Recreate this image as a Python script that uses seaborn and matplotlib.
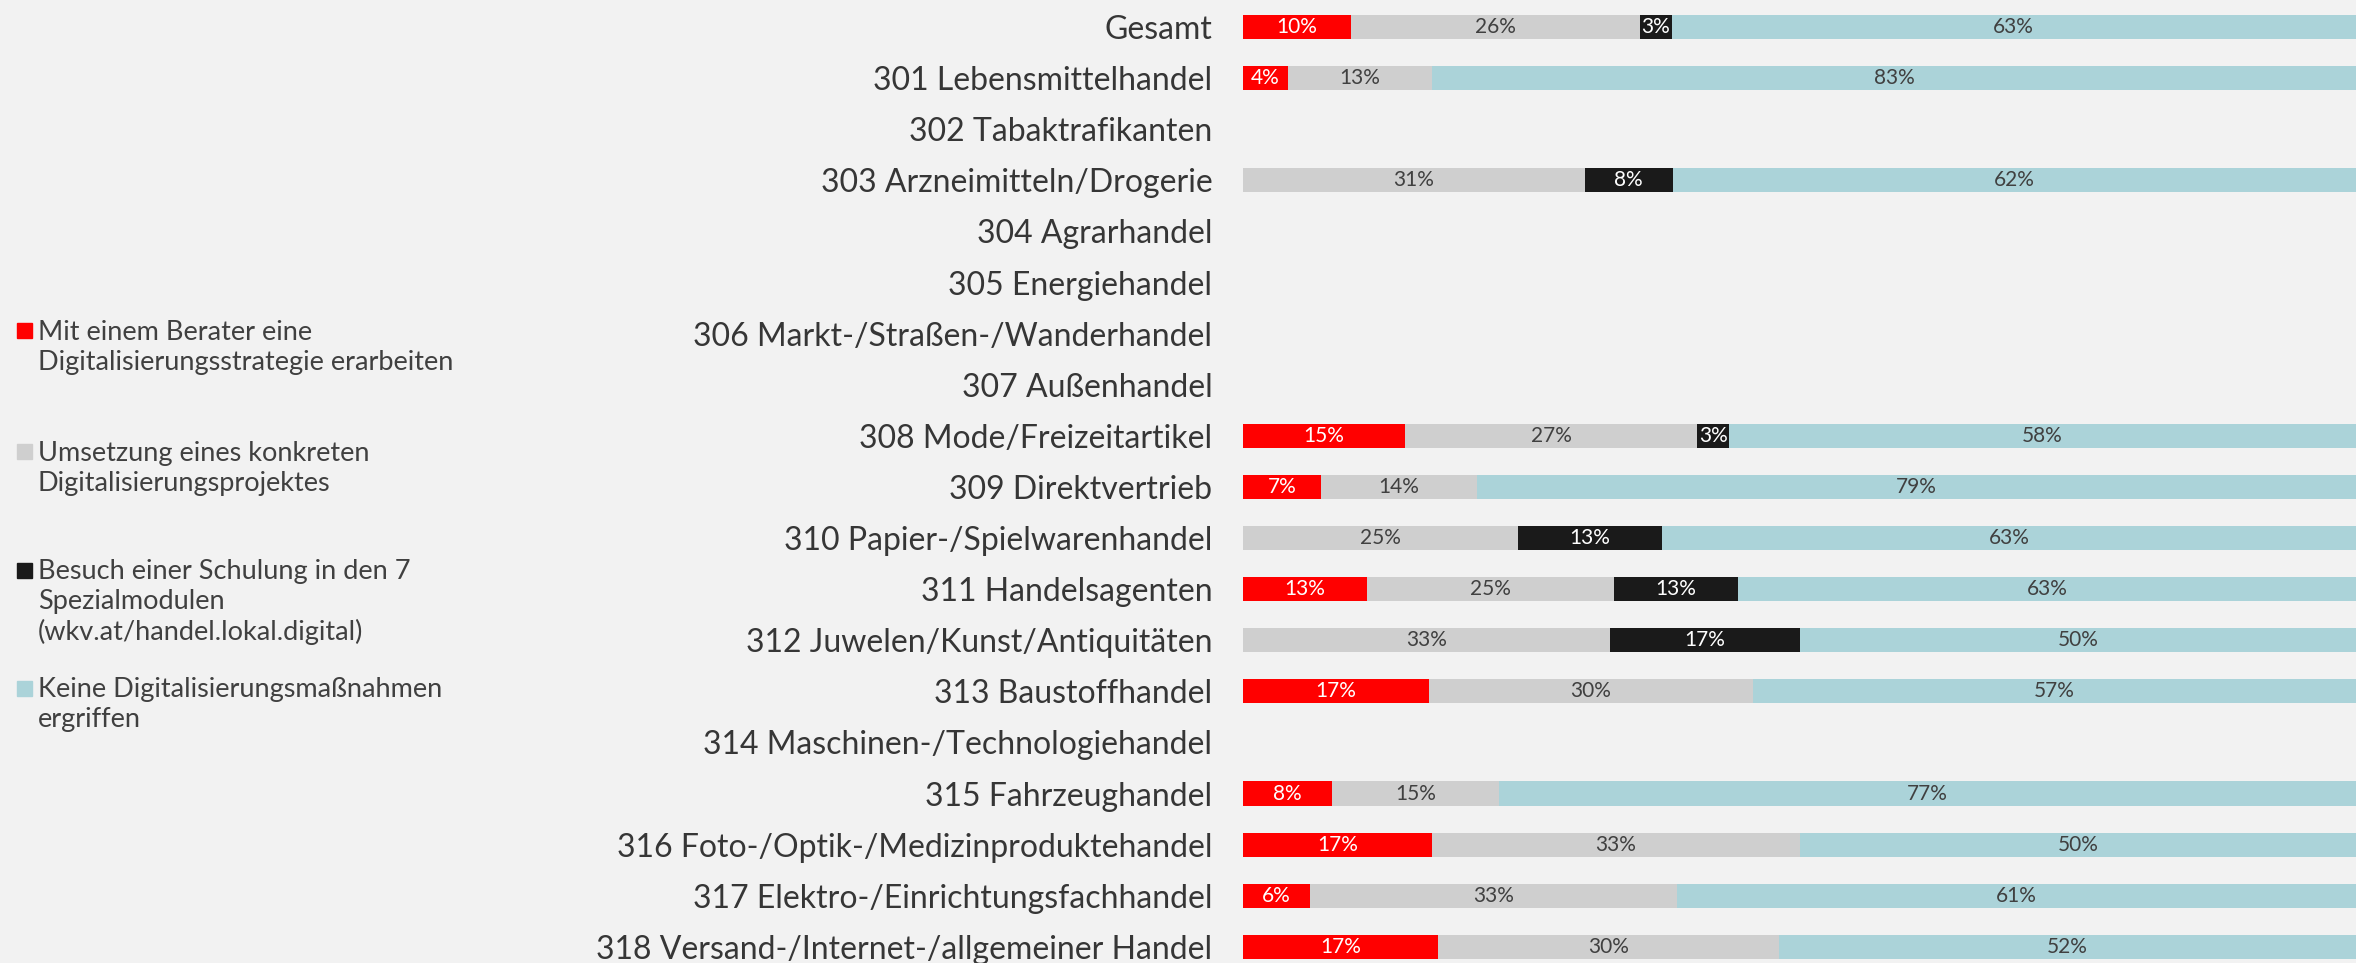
import numpy as np
import pandas as pd
import matplotlib
matplotlib.use("Agg")
import matplotlib.pyplot as plt
import seaborn as sns
from matplotlib.patches import Rectangle

sns.set_theme(style="white")
plt.rcParams['font.family'] = ['Lato', 'DejaVu Sans']

categories = [
    "Gesamt", "301 Lebensmittelhandel", "302 Tabaktrafikanten",
    "303 Arzneimitteln/Drogerie", "304 Agrarhandel", "305 Energiehandel",
    "306 Markt-/Straßen-/Wanderhandel", "307 Außenhandel",
    "308 Mode/Freizeitartikel", "309 Direktvertrieb",
    "310 Papier-/Spielwarenhandel", "311 Handelsagenten",
    "312 Juwelen/Kunst/Antiquitäten", "313 Baustoffhandel",
    "314 Maschinen-/Technologiehandel", "315 Fahrzeughandel",
    "316 Foto-/Optik-/Medizinproduktehandel",
    "317 Elektro-/Einrichtungsfachhandel",
    "318 Versand-/Internet-/allgemeiner Handel",
]
series_names = [
    "Mit einem Berater eine\nDigitalisierungsstrategie erarbeiten",
    "Umsetzung eines konkreten\nDigitalisierungsprojektes",
    "Besuch einer Schulung in den 7\nSpezialmodulen\n(wkv.at/handel.lokal.digital)",
    "Keine Digitalisierungsmaßnahmen\nergriffen",
]
nan = np.nan
# percentages (estimated; labels show values rounded half up)
berater   = [9.9, 4, nan, 0, nan, nan, nan, nan, 15, 7, 0, 12.5, 0, 17.4, nan, 8, 17, 6, 17.4]
umsetzung = [26.4, 13, nan, 31, nan, nan, nan, nan, 27, 14, 25, 25, 33, 30.4, nan, 15, 33, 33, 30.4]
schulung  = [2.9, 0, nan, 8, nan, nan, nan, nan, 3, 0, 13, 12.5, 17, 0, nan, 0, 0, 0, 0]
keine     = [62.6, 83, nan, 62, nan, nan, nan, nan, 58, 79, 63, 62.5, 50, 56.5, nan, 77, 50, 61, 51.5]

colors = ["#ff0000", "#cfcfcf", "#1a1a1a", "#abd3d9"]
text_colors = ["white", "#404040", "white", "#404040"]
bg = "#f2f2f2"

vals = np.array([berater, umsetzung, schulung, keine], dtype=float)  # (4, n)
totals = np.nansum(vals, axis=0)
shares = vals / np.where(totals == 0, 1, totals) * 100
cum = np.cumsum(shares, axis=0)

W, H = 2356, 963
fig = plt.figure(figsize=(W / 100, H / 100), dpi=100, facecolor=bg)
x0 = 1243 / W
ax = fig.add_axes([x0, 0, 1 - x0, 1])
ax.set_facecolor(bg)

# draw from back (full cumulative) to front
for k in range(3, -1, -1):
    df = pd.DataFrame({"cat": categories, "val": cum[k]})
    df = df[~np.isnan(vals[k]) & ~np.isnan(cum[k])]
    sns.barplot(data=df, x="val", y="cat", order=categories, orient="h",
                color=colors[k], saturation=1, width=0.47, errorbar=None,
                linewidth=0, ax=ax)

# segment labels
for i in range(len(categories)):
    if np.all(np.isnan(vals[:, i])):
        continue
    left = 0.0
    for k in range(4):
        v = vals[k, i]
        w = shares[k, i]
        if not np.isnan(v) and v > 0:
            ax.text(left + w / 2, i, f"{int(np.floor(v + 0.5))}%", ha="center",
                    va="center", fontsize=15, color=text_colors[k])
        if not np.isnan(w):
            left += w

ax.set_xlim(0, 100)
ax.set_ylim((H - 27) / 51.1, -27 / 51.1)
ax.set_xlabel("")
ax.set_ylabel("")
ax.set_xticks([])
ax.tick_params(axis="y", length=0, pad=22, labelsize=23, labelcolor="#363636")
for s in ax.spines.values():
    s.set_visible(False)

# legend (left side)
leg_tops = [331, 452, 570, 688]
for k, (name, yc) in enumerate(zip(series_names, leg_tops)):
    sq = 15
    fig.patches.append(Rectangle((17 / W, 1 - (yc + sq / 2) / H), sq / W, sq / H,
                                 transform=fig.transFigure, color=colors[k]))
    fig.text(38 / W, 1 - (yc - 11) / H, name, ha="left", va="top",
             fontsize=19.5, color="#404040", linespacing=1.25)

fig.savefig("out.png", dpi=100, facecolor=bg)
